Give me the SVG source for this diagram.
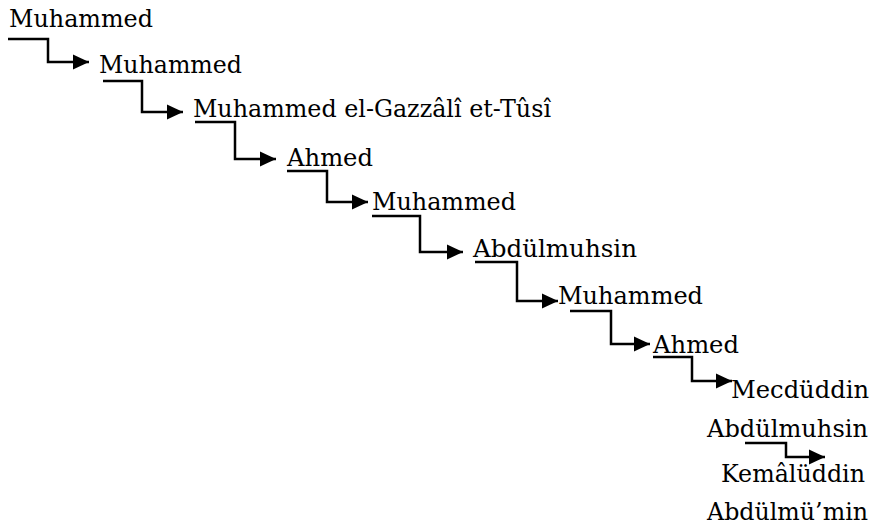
<svg xmlns="http://www.w3.org/2000/svg" width="877" height="526" viewBox="0 0 877 526">
<style>
text{font-family:"DejaVu Serif","Liberation Serif",serif;font-size:25px;fill:#000}
.c path{fill:none;stroke:#000;stroke-width:2.5;marker-end:url(#ah)}
</style>
<defs>
<marker id="ah" markerUnits="userSpaceOnUse" markerWidth="17" markerHeight="16" refX="16" refY="8" orient="auto">
<path d="M0,0.5 L16,8 L0,15.5 z" fill="#000"/>
</marker>
</defs>
<rect width="877" height="526" fill="#fff"/>
<g id="n1"><text x="9" y="27" textLength="144" lengthAdjust="spacingAndGlyphs">Muhammed</text></g>
<g id="n2"><text x="99" y="73" textLength="143" lengthAdjust="spacingAndGlyphs">Muhammed</text></g>
<g id="n3"><text x="193" y="117" textLength="358" lengthAdjust="spacingAndGlyphs">Muhammed el-Gazzâlî et-Tûsî</text></g>
<g id="n4"><text x="287" y="166" textLength="86" lengthAdjust="spacingAndGlyphs">Ahmed</text></g>
<g id="n5"><text x="372" y="210" textLength="144" lengthAdjust="spacingAndGlyphs">Muhammed</text></g>
<g id="n6"><text x="473" y="257" textLength="164" lengthAdjust="spacingAndGlyphs">Abdülmuhsin</text></g>
<g id="n7"><text x="558" y="304" textLength="145" lengthAdjust="spacingAndGlyphs">Muhammed</text></g>
<g id="n8"><text x="653" y="353" textLength="86" lengthAdjust="spacingAndGlyphs">Ahmed</text></g>
<g id="n9"><text x="731" y="398" textLength="138" lengthAdjust="spacingAndGlyphs">Mecdüddin</text>
<text x="707" y="437" textLength="161" lengthAdjust="spacingAndGlyphs">Abdülmuhsin</text></g>
<g id="n10"><text x="721" y="482" textLength="144" lengthAdjust="spacingAndGlyphs">Kemâlüddin</text>
<text x="707" y="520" textLength="161" lengthAdjust="spacingAndGlyphs">Abdülmü’min</text></g>
<g id="connectors" class="c">
<path d="M8,39 H48 V62 H89"/>
<path d="M103,81 H142 V112 H183"/>
<path d="M195,122 H235 V159 H276"/>
<path d="M287,171 H327 V202 H368"/>
<path d="M372,216 H420 V252 H463"/>
<path d="M475,262 H517 V301 H558"/>
<path d="M570,311 H611 V344 H650"/>
<path d="M653,357 H692 V381 H732"/>
<path d="M745,443 H786 V457 H825"/>
</g>
</svg>
